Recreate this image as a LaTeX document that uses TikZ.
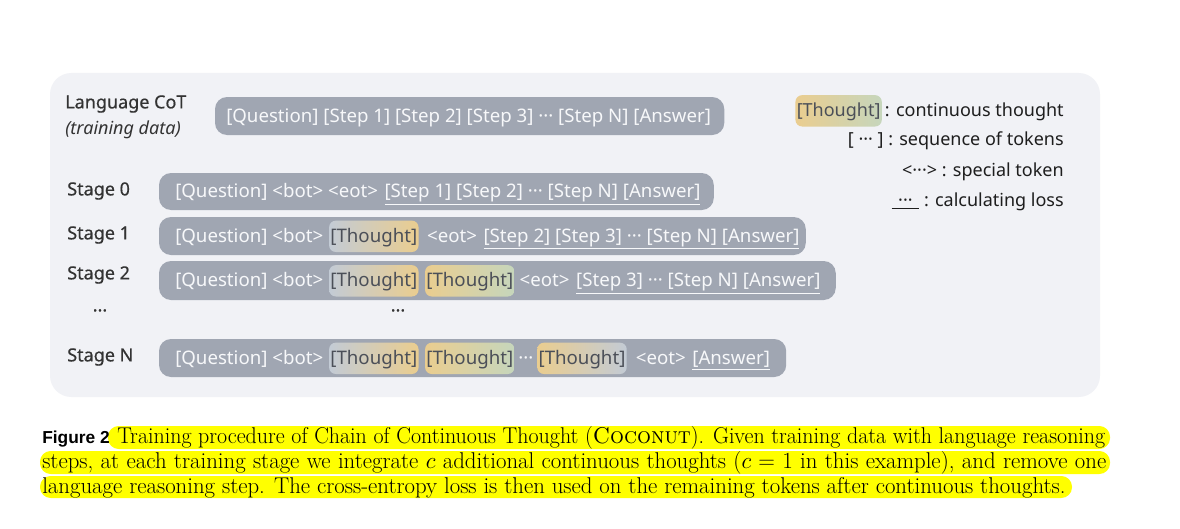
\documentclass[tikz,border=0pt]{standalone}
\usepackage{fontspec}
\usepackage{graphicx}
\newfontfamily\dsans{Noto Sans}
\newfontfamily\dsanslab{Noto Sans}[FakeBold=0.6]
\newfontfamily\figfont{Liberation Sans}
\usetikzlibrary{backgrounds,calc}
\pgfdeclarelayer{base}
\pgfsetlayers{base,background,main}
\definecolor{panel}{HTML}{F1F2F6}
\definecolor{barc}{HTML}{A0A6B2}
\definecolor{barText}{HTML}{F7F8FA}
\definecolor{thText}{HTML}{4B4F58}
\definecolor{cBlue}{HTML}{C3CBD5}
\definecolor{cYel}{HTML}{EACD8F}
\definecolor{cGreen}{HTML}{C6D6BC}
\definecolor{labText}{HTML}{333333}
\definecolor{legText}{HTML}{1E1E1E}
\definecolor{hl}{HTML}{FFFF00}
\tikzset{
  tok/.style={inner sep=0pt, anchor=base west, text=barText, font=\dsans\fontsize{14pt}{16pt}\selectfont},
  th/.style={tok, text=thText, rounded corners=5pt, inner xsep=1pt, inner ysep=4.5pt, text height=11.5pt, text depth=3pt},
  leg/.style={tok, anchor=base east, text=legText, font=\dsans\fontsize{13.5pt}{16pt}\selectfont},
  lab/.style={inner sep=0pt, anchor=west, text=labText, font=\dsanslab\fontsize{13.5pt}{16pt}\selectfont},
  barbox/.style={fill=barc, rounded corners=9pt},
  captext/.style={inner sep=0pt, anchor=base west, font=\fontsize{17.1pt}{20pt}\selectfont},
  hlbox/.style={fill=hl, rounded corners=8pt},
}
\begin{document}
\begin{tikzpicture}[x=0.75pt,y=-0.75pt]
\useasboundingbox (0,0) rectangle (1180,528);
\begin{pgfonlayer}{base}
\fill[white] (0,0) rectangle (1180,528);
\fill[panel, rounded corners=16pt] (50,73) rectangle (1100,397);
\end{pgfonlayer}

% labels
\node[lab] (lcot) at (65,104) {Language CoT};
\node[lab, font=\dsans\itshape\fontsize{13.5pt}{16pt}\selectfont] (ltd) at (65,130) {(training data)};
\node[lab] (st0) at (67,191) {Stage 0};
\node[lab] (st1) at (67,235) {Stage 1};
\node[lab] (st2) at (67,275) {Stage 2};
\node[lab, anchor=center] (sdots) at (100,313) {···};
\node[lab] (stn) at (67,357) {Stage N};
\node[lab, anchor=center] (mdots) at (398,313) {···};

% Language CoT row
\node[tok] (l0) at (226,122) {[Question] [Step 1] [Step 2] [Step 3] ··· [Step N] [Answer]};

% Stage 0
\node[tok] (a0) at (175,197.5) {[Question] <bot> <eot>};
\node[tok] (a1) at ([xshift=4.5pt]a0.base east) {\underline{[Step 1] [Step 2] ··· [Step N] [Answer]}};

% Stage 1
\node[tok] (b0) at (175,242) {[Question] <bot>};
\node[th, left color=cBlue, right color=cYel] (b1) at ([xshift=4pt]b0.base east) {[Thought]};
\node[tok] (b2) at ([xshift=6pt]b1.base east) {<eot>};
\node[tok] (b3) at ([xshift=4.5pt]b2.base east) {\underline{[Step 2] [Step 3] ··· [Step N] [Answer]}};

% Stage 2
\node[tok] (c0) at (175,286.5) {[Question] <bot>};
\node[th, left color=cBlue, right color=cYel] (c1) at ([xshift=4pt]c0.base east) {[Thought]};
\node[th, left color=cYel, right color=cGreen] (c2) at ([xshift=4.5pt]c1.base east) {[Thought]};
\node[tok] (c3) at ([xshift=3.5pt]c2.base east) {<eot>};
\node[tok] (c4) at ([xshift=4.5pt]c3.base east) {\underline{[Step 3] ··· [Step N] [Answer]}};

% Stage N
\node[tok] (d0) at (175,364) {[Question] <bot>};
\node[th, left color=cBlue, right color=cYel] (d1) at ([xshift=4pt]d0.base east) {[Thought]};
\node[th, left color=cYel, right color=cGreen] (d2) at ([xshift=4.5pt]d1.base east) {[Thought]};
\node[tok] (d3) at ([xshift=2.5pt]d2.base east) {···};
\node[th, left color=cYel, right color=cBlue] (d4) at ([xshift=2.5pt]d3.base east) {[Thought]};
\node[tok] (d5) at ([xshift=6.5pt]d4.base east) {<eot>};
\node[tok] (d6) at ([xshift=4.5pt]d5.base east) {\underline{[Answer]}};

% bars
\begin{pgfonlayer}{background}
\fill[barbox] (215,97) rectangle ($(l0.east|-0,135)+(13,0)$);
\fill[barbox] (159,173) rectangle ($(a1.east|-0,210)+(13,0)$);
\fill[barbox] (159,217) rectangle ($(b3.east|-0,255)+(6,0)$);
\fill[barbox] (159,261) rectangle ($(c4.east|-0,300)+(15,0)$);
\fill[barbox] (159,339) rectangle ($(d6.east|-0,377)+(16,0)$);
\end{pgfonlayer}

% legend
\node[leg] (g1) at (1064,116.5) {: continuous thought};
\node[th, anchor=base east, left color=cYel, right color=cGreen, font=\dsans\fontsize{13.5pt}{16pt}\selectfont] (gt) at ([xshift=-2pt]g1.base west) {[Thought]};
\node[leg] (g2) at (1064,145) {[ ··· ] : sequence of tokens};
\node[leg] (g3) at (1064,176) {<···> : special token};
\node[leg] (g4) at (1064,206) {\underline{\hspace{5pt}···\hspace{5pt}} : calculating loss};

% caption
\begin{pgfonlayer}{background}
\fill[hlbox] (108,426) rectangle (1110,449);
\fill[hlbox] (40,451) rectangle (1110,474);
\fill[hlbox] (40,476) rectangle (1072,498);
\end{pgfonlayer}
\node[inner sep=0pt, anchor=base west, font=\figfont\bfseries\fontsize{13pt}{15pt}\selectfont] (fig) at (42,443) {Figure 2};
\node[captext] (cap1) at (117,443) {\resizebox{741pt}{\height}{Training procedure of Chain of Continuous Thought (\textsc{Coconut}). Given training data with language reasoning}};
\node[captext] (cap2) at (42,468) {\makebox[798pt][s]{steps, at each training stage we integrate $c$ additional continuous thoughts ($c=1$ in this example), and remove one}};
\node[captext] (cap3) at (42,493) {language reasoning step. The cross-entropy loss is then used on the remaining tokens after continuous thoughts.};
\end{tikzpicture}
\end{document}
